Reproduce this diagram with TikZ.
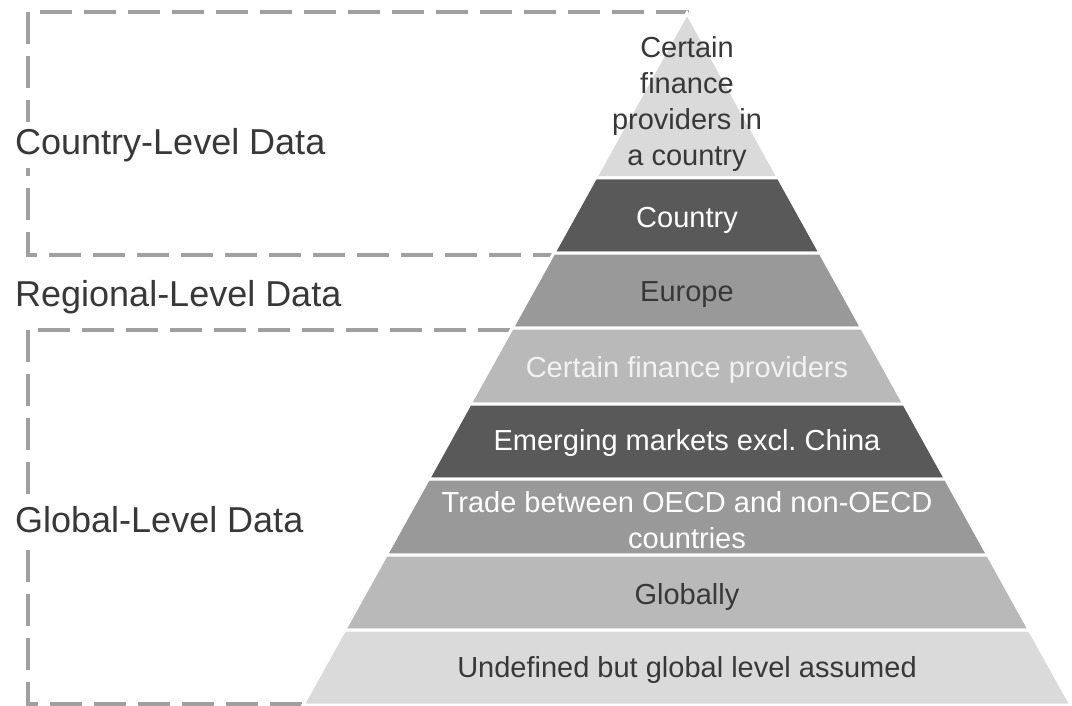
\documentclass[tikz,border=0pt]{standalone}
\usepackage{fontspec}
\setmainfont{Liberation Sans}
\usepackage{xcolor}
\usepackage{tikz}

\definecolor{bandpale}{HTML}{DADADA}
\definecolor{banddark}{HTML}{595959}
\definecolor{bandmid}{HTML}{999999}
\definecolor{bandsoft}{HTML}{B9B9B9}
\definecolor{boxgray}{HTML}{A0A0A0}
\definecolor{textdark}{HTML}{383838}

\begin{document}
\begin{tikzpicture}[x=1pt, y=-1pt,
    band/.style={draw=white, line width=3pt},
    lvlbox/.style={draw=boxgray, line width=3.5pt, dash pattern=on 32pt off 12pt},
    lvl/.style={anchor=west, text=textdark, fill=white, inner xsep=0pt, inner ysep=6pt,
        font=\fontsize{36}{43}\selectfont},
    txt/.style={align=center, inner sep=0pt, font=\fontsize{29}{35.7}\selectfont}]
            \useasboundingbox (0, 0) rectangle (1072, 706);

            % dashed level boxes
            \draw[lvlbox] (28, 12) rectangle (687, 255); % country
            \draw[lvlbox] (28, 330) rectangle (687, 704); % global

            % pyramid bands
            \filldraw[band, fill=bandpale] (687, 13) -- (778.6, 178) -- (595.4, 178) -- cycle; % apex
            \filldraw[band, fill=banddark] (595.4, 178) -- (778.6, 178) -- (820.2, 253) -- (553.8, 253) -- cycle; % country
            \filldraw[band, fill=bandmid] (553.8, 253) -- (820.2, 253) -- (861.8, 328) -- (512.2, 328) -- cycle; % europe
            \filldraw[band, fill=bandsoft] (512.2, 328) -- (861.8, 328) -- (904, 404) -- (470, 404) -- cycle; % providers
            \filldraw[band, fill=banddark] (470, 404) -- (904, 404) -- (945.6, 479) -- (428.4, 479) -- cycle; % emerging
            \filldraw[band, fill=bandmid] (428.4, 479) -- (945.6, 479) -- (987.8, 555) -- (386.2, 555) -- cycle; % trade
            \filldraw[band, fill=bandsoft] (386.2, 555) -- (987.8, 555) -- (1029.4, 630) -- (344.6, 630) -- cycle; % globally
            \filldraw[band, fill=bandpale] (344.6, 630) -- (1029.4, 630) -- (1071.1, 705) -- (302.9, 705) -- cycle; % undefined

            % band texts
            \node[txt, text=textdark] (apexTxt) at (687, 104) {Certain\\finance\\providers in\\a country};
            \node[txt, text=white] (countryTxt) at (687, 220) {Country};
            \node[txt, text=textdark] (europeTxt) at (687, 295) {Europe};
            \node[txt, text=white!95!black] (providersTxt) at (687, 370) {Certain finance providers};
            \node[txt, text=white] (emergingTxt) at (687, 443) {Emerging markets excl.\ China};
            \node[txt, text=white] (tradeTxt) at (687, 520) {Trade between OECD and non-OECD\\countries};
            \node[txt, text=textdark] (globallyTxt) at (687, 597) {Globally};
            \node[txt, text=textdark] (undefinedTxt) at (687, 670) {Undefined but global level assumed};

            % level labels
            \node[lvl] (countryLvl) at (15, 145) {Country-Level Data};
            \node[lvl] (regionLvl) at (15, 297) {Regional-Level Data};
            \node[lvl] (globalLvl) at (15, 520) {Global-Level Data};
        \end{tikzpicture}
\end{document}
